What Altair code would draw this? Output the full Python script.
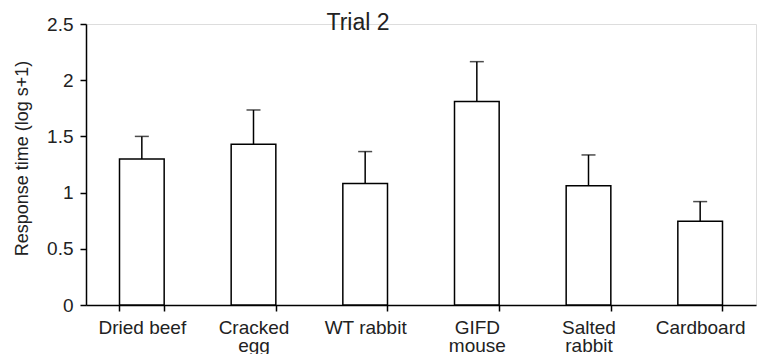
import altair as alt
import pandas as pd

categories = ["Dried beef", "Cracked\negg", "WT rabbit", "GIFD\nmouse", "Salted\nrabbit", "Cardboard"]
means = [1.30, 1.43, 1.08, 1.81, 1.06, 0.745]
upper = [1.50, 1.735, 1.365, 2.165, 1.335, 0.92]
y_ticks = [0, 0.5, 1, 1.5, 2, 2.5]

df = pd.DataFrame({"food": categories, "mean": means, "upper": upper})

FONT = "Liberation Sans"

x_enc = alt.X(
    "food:N",
    sort=categories,
    scale=alt.Scale(paddingInner=0.6, paddingOuter=0.3),
    axis=alt.Axis(
        title=None,
        labelAngle=0,
        labelExpr="split(datum.label, '\\n')",
        labelFont=FONT,
        labelFontSize=19,
        labelLineHeight=18,
        labelColor="#222",
        labelPadding=7,
        tickBand="extent",
        tickSize=6,
        tickColor="black",
        tickWidth=1.5,
        domainColor="black",
        domainWidth=1.5,
        grid=False,
    ),
)

y_scale = alt.Scale(domain=[0, 2.5], nice=False)
y_axis = alt.Axis(
    title="Response time (log s+1)",
    values=y_ticks,
    format="~g",
    labelFont=FONT,
    labelFontSize=19,
    labelColor="#222",
    labelPadding=7,
    tickSize=6,
    tickColor="black",
    tickWidth=1.5,
    domainColor="black",
    domainWidth=1.5,
    grid=False,
    titleFont=FONT,
    titleFontSize=18,
    titleFontWeight="normal",
    titleColor="#222",
    titleX=-64,
    titleY=134,
    titleBaseline="middle",
)

bars = alt.Chart(df).mark_bar(fill="white", stroke="black", strokeWidth=1.5).encode(
    x=x_enc,
    y=alt.Y("mean:Q", scale=y_scale, axis=y_axis),
)

err = alt.Chart(df).mark_rule(color="black", strokeWidth=1.5).encode(
    x=alt.X("food:N", sort=categories),
    y=alt.Y("mean:Q"),
    y2="upper:Q",
)

caps = alt.Chart(df).mark_tick(color="black", size=14, thickness=1.5).encode(
    x=alt.X("food:N", sort=categories),
    y=alt.Y("upper:Q"),
)

chart = (
    alt.layer(bars, err, caps)
    .properties(
        width=670,
        height=281,
        title=alt.TitleParams(
            text="Trial 2",
            font=FONT,
            fontSize=23,
            fontWeight="normal",
            color="#222",
            anchor="middle",
            frame="group",
            orient="top",
            offset=-38,
            baseline="alphabetic",
            dx=-63,
        ),
        autosize=alt.AutoSizeParams(type="none"),
        padding={"left": 86, "top": 24, "right": 2, "bottom": 49},
    )
    .configure_view(stroke=None)
    .configure(background="white")
)

chart.save("out.html", embed_options={"renderer": "svg", "actions": False})
